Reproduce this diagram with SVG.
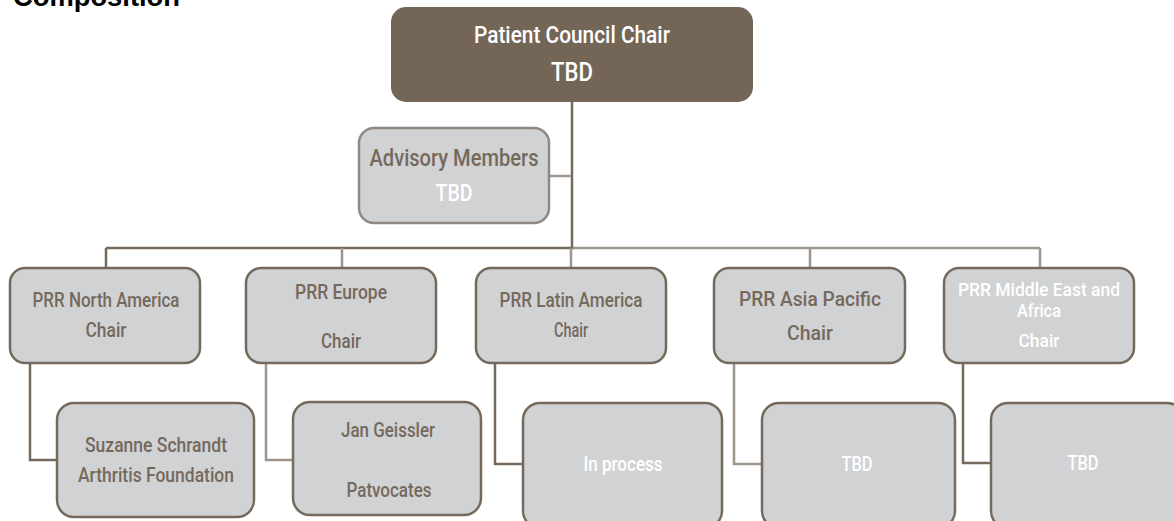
<svg xmlns="http://www.w3.org/2000/svg" width="1174" height="521" viewBox="0 0 1174 521">
<style>
.box{fill:#d1d2d4;stroke:#75695c;stroke-width:2.5}
.t{font-family:Roboto,"Liberation Sans",Arial,sans-serif;font-weight:500;text-anchor:middle}
.d{fill:#75695c}
.w{fill:#ffffff}
.ld{fill:none;stroke:#75695c;stroke-width:2.5}
.ll{fill:none;stroke:#9e968d;stroke-width:2.5}
</style>
<rect width="1174" height="521" fill="#ffffff"/>
<text x="13" y="6" font-family="Liberation Sans,Arial,sans-serif" font-weight="bold" font-size="27" fill="#000" textLength="167" lengthAdjust="spacingAndGlyphs">Composition</text>
<g id="connectors">
<line class="ld" x1="572" y1="102" x2="572" y2="249"/>
<line class="ll" x1="549" y1="176" x2="571" y2="176"/>
<line class="ld" x1="106" y1="248" x2="573" y2="248"/>
<line class="ll" x1="573" y1="248" x2="1040" y2="248"/>
<line class="ld" x1="106" y1="248" x2="106" y2="268"/>
<line class="ll" x1="342" y1="248" x2="342" y2="268"/>
<line class="ll" x1="571" y1="248" x2="571" y2="268"/>
<line class="ll" x1="810" y1="248" x2="810" y2="268"/>
<line class="ll" x1="1040" y1="248" x2="1040" y2="268"/>
<polyline class="ld" points="30,363 30,460 57,460"/>
<polyline class="ll" points="266,363 266,460 293,460"/>
<polyline class="ld" points="495,363 495,464 523,464"/>
<polyline class="ll" points="734,363 734,464 762,464"/>
<polyline class="ld" points="963,363 963,463 991,463"/>
</g>
<g id="chair">
<rect x="391" y="7" width="362" height="95" rx="15" fill="#746657"/>
<text class="t w" x="572" y="43" font-size="24.5" textLength="196" lengthAdjust="spacingAndGlyphs">Patient Council Chair</text>
<text class="t w" x="572" y="81" font-size="25.5" textLength="42" lengthAdjust="spacingAndGlyphs">TBD</text>
</g>
<g id="advisory">
<rect x="359" y="128" width="190" height="95" rx="15" fill="#d1d2d4" stroke="#918880" stroke-width="2.5"/>
<text class="t d" x="454" y="166" font-size="23" textLength="169" lengthAdjust="spacingAndGlyphs">Advisory Members</text>
<text class="t w" x="454" y="201" font-size="23" textLength="37" lengthAdjust="spacingAndGlyphs">TBD</text>
</g>
<g id="na">
<rect class="box" x="10" y="268" width="190" height="95" rx="15"/>
<text class="t d" x="106" y="307" font-size="19.5" textLength="147" lengthAdjust="spacingAndGlyphs">PRR North America</text>
<text class="t d" x="106" y="337" font-size="19.5" textLength="41" lengthAdjust="spacingAndGlyphs">Chair</text>
</g>
<g id="europe">
<rect class="box" x="246" y="268" width="190" height="95" rx="15"/>
<text class="t d" x="341" y="299" font-size="19.5" textLength="92" lengthAdjust="spacingAndGlyphs">PRR Europe</text>
<text class="t d" x="341" y="348" font-size="19.5" textLength="40" lengthAdjust="spacingAndGlyphs">Chair</text>
</g>
<g id="latam">
<rect class="box" x="476" y="268" width="190" height="95" rx="15"/>
<text class="t d" x="571" y="307" font-size="19.5" textLength="143" lengthAdjust="spacingAndGlyphs">PRR Latin America</text>
<text class="t d" x="571" y="337" font-size="19.5" textLength="34" lengthAdjust="spacingAndGlyphs">Chair</text>
</g>
<g id="apac">
<rect class="box" x="714" y="268" width="191" height="95" rx="15"/>
<text class="t d" x="810" y="306" font-size="21" textLength="142" lengthAdjust="spacingAndGlyphs">PRR Asia Pacific</text>
<text class="t d" x="810" y="340" font-size="21" textLength="46" lengthAdjust="spacingAndGlyphs">Chair</text>
</g>
<g id="mea">
<rect class="box" x="944" y="268" width="190" height="95" rx="15"/>
<text class="t w" x="1039" y="296" font-size="18.6" textLength="162" lengthAdjust="spacingAndGlyphs">PRR Middle East and</text>
<text class="t w" x="1039" y="317" font-size="18.6" textLength="44" lengthAdjust="spacingAndGlyphs">Africa</text>
<text class="t w" x="1039" y="347" font-size="18.6" textLength="41" lengthAdjust="spacingAndGlyphs">Chair</text>
</g>
<g id="suzanne">
<rect class="box" x="57" y="403" width="197" height="114" rx="17"/>
<text class="t d" x="156" y="452" font-size="21" textLength="142" lengthAdjust="spacingAndGlyphs">Suzanne Schrandt</text>
<text class="t d" x="156" y="482" font-size="21" textLength="156" lengthAdjust="spacingAndGlyphs">Arthritis Foundation</text>
</g>
<g id="jan">
<rect class="box" x="293" y="402" width="188" height="113" rx="17"/>
<text class="t d" x="388" y="437" font-size="21" textLength="94" lengthAdjust="spacingAndGlyphs">Jan Geissler</text>
<text class="t d" x="389" y="497" font-size="21" textLength="85" lengthAdjust="spacingAndGlyphs">Patvocates</text>
</g>
<g id="inprocess">
<rect class="box" x="523" y="403" width="199" height="125" rx="17"/>
<text class="t w" x="623" y="471" font-size="20" textLength="79" lengthAdjust="spacingAndGlyphs">In process</text>
</g>
<g id="tbd-ap">
<rect class="box" x="762" y="403" width="193" height="125" rx="17"/>
<text class="t w" x="857" y="471" font-size="20" textLength="31" lengthAdjust="spacingAndGlyphs">TBD</text>
</g>
<g id="tbd-me">
<rect class="box" x="991" y="403" width="193" height="125" rx="17"/>
<text class="t w" x="1083" y="470" font-size="20" textLength="31" lengthAdjust="spacingAndGlyphs">TBD</text>
</g>
</svg>
